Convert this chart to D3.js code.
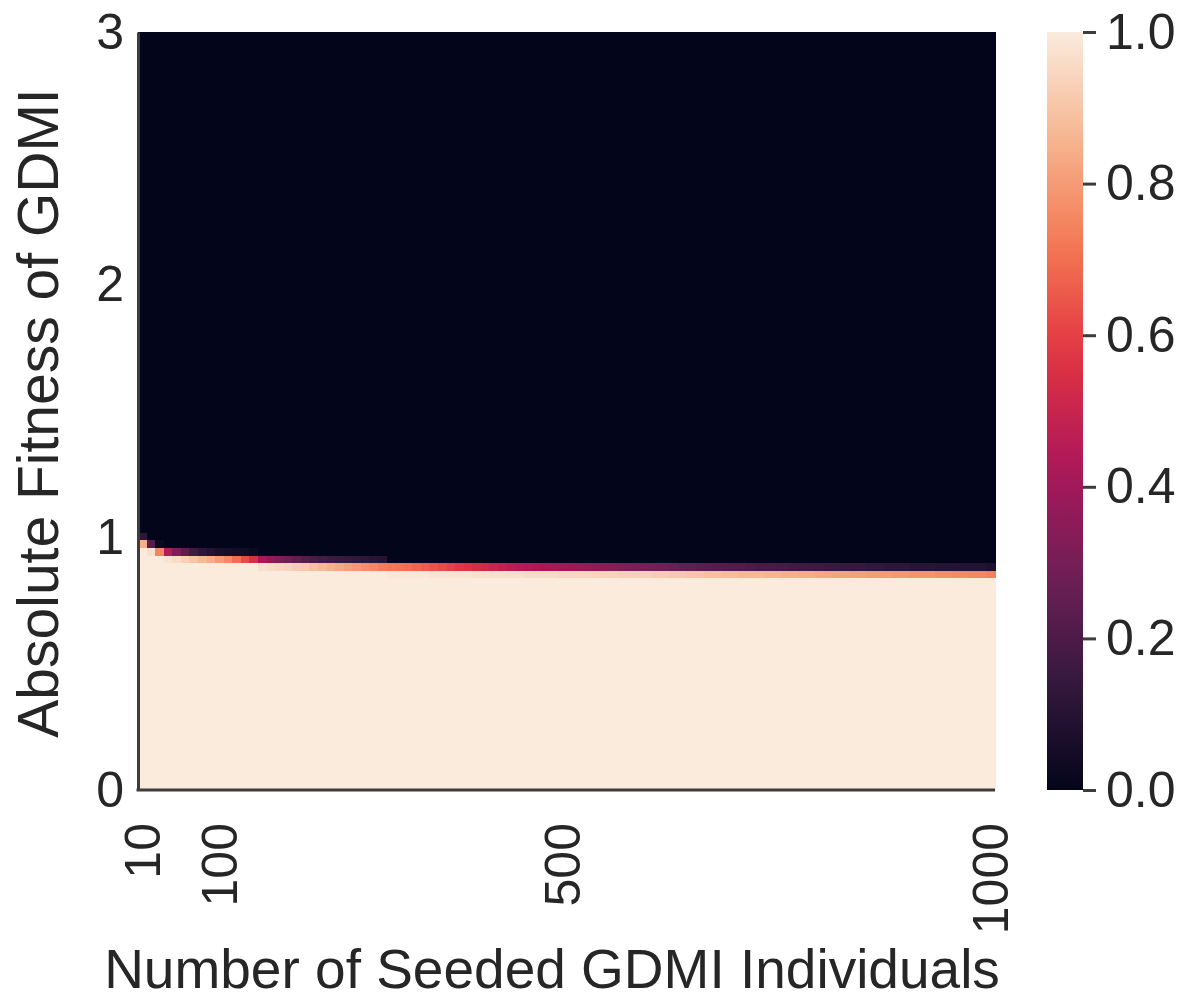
<!DOCTYPE html>
<html>
<head>
<meta charset="utf-8">
<script src="https://cdn.jsdelivr.net/npm/d3@7"></script>
<style>
  body { margin: 0; background: #fff; }
  text { font-family: "Liberation Sans", Arial, sans-serif; fill: #262626; }
</style>
</head>
<body>
<div id="chart"></div>
<script>
// number of seeded individuals (columns) and fitness rows
var seeded = d3.range(10, 1001, 10);
var nRows = 100;          // rows span fitness 0..3
var xTicks = [10, 100, 500, 1000];
var yTicks = [0, 1, 2, 3];
var cbTicks = [0, 0.2, 0.4, 0.6, 0.8, 1.0];

// row (from bottom) of the lower transition cell, for each column
var edgeRow = [
  32, 31, 31, 30, 30, 30, 30, 30, 30, 30,
  30, 30, 30, 30, 29, 29, 29, 29, 29, 29,
  29, 29, 29, 29, 29, 29, 29, 29, 29, 28,
  28, 28, 28, 28, 28, 28, 28, 28, 28, 28,
  28, 28, 28, 28, 28, 28, 28, 28, 28, 28,
  28, 28, 28, 28, 28, 28, 28, 28, 28, 28,
  28, 28, 28, 28, 28, 28, 28, 28, 28, 28,
  28, 28, 28, 28, 28, 28, 28, 28, 28, 28,
  28, 28, 28, 28, 28, 28, 28, 28, 28, 28,
  28, 28, 28, 28, 28, 28, 28, 28, 28, 28
];
// value of the lower transition cell
var lowerVal = [
  0.85, 0.97, 0.75, 0.98, 0.96, 0.93, 0.90, 0.87, 0.84, 0.80,
  0.76, 0.70, 0.62, 0.55, 0.97, 0.96, 0.95, 0.94, 0.92, 0.91,
  0.89, 0.87, 0.85, 0.83, 0.81, 0.79, 0.77, 0.75, 0.73, 0.99,
  0.99, 0.99, 0.99, 0.99, 0.98, 0.98, 0.98, 0.98, 0.98, 0.97,
  0.97, 0.97, 0.97, 0.97, 0.97, 0.96, 0.96, 0.96, 0.96, 0.95,
  0.95, 0.95, 0.95, 0.94, 0.94, 0.94, 0.93, 0.93, 0.93, 0.93,
  0.92, 0.92, 0.91, 0.91, 0.90, 0.90, 0.89, 0.89, 0.88, 0.88,
  0.87, 0.87, 0.87, 0.86, 0.86, 0.85, 0.85, 0.84, 0.84, 0.83,
  0.83, 0.82, 0.82, 0.81, 0.81, 0.80, 0.80, 0.80, 0.79, 0.79,
  0.78, 0.78, 0.78, 0.77, 0.77, 0.76, 0.76, 0.75, 0.75, 0.74
];
// value of the cell just above it
var upperVal = [
  0.12, 0.22, 0.03, 0.45, 0.32, 0.24, 0.17, 0.12, 0.09, 0.07,
  0.06, 0.05, 0.04, 0.03, 0.42, 0.36, 0.32, 0.28, 0.25, 0.22,
  0.20, 0.18, 0.16, 0.15, 0.14, 0.13, 0.12, 0.11, 0.10, 0.72,
  0.71, 0.70, 0.68, 0.66, 0.64, 0.62, 0.60, 0.58, 0.56, 0.54,
  0.52, 0.50, 0.48, 0.46, 0.45, 0.44, 0.43, 0.42, 0.41, 0.40,
  0.39, 0.38, 0.37, 0.36, 0.35, 0.34, 0.33, 0.32, 0.31, 0.30,
  0.29, 0.28, 0.27, 0.26, 0.25, 0.24, 0.23, 0.22, 0.22, 0.21,
  0.21, 0.20, 0.19, 0.19, 0.18, 0.18, 0.17, 0.17, 0.16, 0.16,
  0.15, 0.15, 0.14, 0.14, 0.14, 0.13, 0.13, 0.12, 0.12, 0.12,
  0.11, 0.11, 0.11, 0.10, 0.10, 0.10, 0.09, 0.09, 0.09, 0.08
];

// rocket colormap stops
var rocketStops = [0, 1/7, 2/7, 3/7, 4/7, 5/7, 6/7, 1];
var rocketColors = ["#03051a", "#35193e", "#701f57", "#ad1759", "#e13342", "#f37651", "#f6b48f", "#faebdd"];
var color = d3.scaleLinear().domain(rocketStops).range(rocketColors).interpolate(d3.interpolateRgb).clamp(true);

var width = 1197, height = 1001;
// plot box
var pLeft = 138, pRight = 995, pTop = 32, pBottom = 790;

var svg = d3.select("#chart").append("svg")
  .attr("width", width).attr("height", height);

// build cells
var cells = [];
seeded.forEach(function(n, c) {
  for (var r = 0; r < nRows; r++) {
    var v;
    if (r < edgeRow[c]) v = 1;
    else if (r === edgeRow[c]) v = lowerVal[c];
    else if (r === edgeRow[c] + 1) v = upperVal[c];
    else v = 0;
    cells.push({ n: n, row: r, value: v });
  }
});

var x = d3.scaleBand().domain(seeded).range([pLeft, pRight]);
var yRow = d3.scaleBand().domain(d3.range(nRows)).range([pBottom, pTop]);
var y = d3.scaleLinear().domain([0, 3]).range([pBottom, pTop]);

svg.append("g").selectAll("rect").data(cells).enter().append("rect")
  .attr("x", function(d) { return x(d.n); })
  .attr("y", function(d) { return yRow(d.row); })
  .attr("width", x.bandwidth() + 0.5)
  .attr("height", yRow.bandwidth() + 0.5)
  .attr("fill", function(d) { return color(d.value); })
  .attr("shape-rendering", "crispEdges");

// axes
var xAxis = d3.axisBottom(x).tickValues(xTicks).tickSizeInner(0).tickSizeOuter(0);
var gx = svg.append("g").attr("transform", "translate(0," + pBottom + ")").call(xAxis);
gx.select(".domain").attr("stroke", "#3d3d3d").attr("stroke-width", 3)
  .attr("d", "M" + (pLeft - 1.5) + ",0H" + pRight);
gx.selectAll(".tick text")
  .attr("font-size", 50).attr("fill", "#262626")
  .attr("transform", "rotate(-90)")
  .attr("text-anchor", "end")
  .attr("x", -33).attr("y", 0).attr("dy", "0.35em");

var yAxis = d3.axisLeft(y).tickValues(yTicks).tickFormat(d3.format("d"))
  .tickSizeInner(0).tickSizeOuter(0).tickPadding(14);
var gy = svg.append("g").attr("transform", "translate(" + pLeft + ",0)").call(yAxis);
gy.select(".domain").attr("stroke", "#3d3d3d").attr("stroke-width", 3);
gy.selectAll(".tick text").attr("font-size", 50).attr("fill", "#262626");

// axis titles
svg.append("text")
  .attr("x", 552).attr("y", 988)
  .attr("text-anchor", "middle").attr("font-size", 55)
  .text("Number of Seeded GDMI Individuals");
svg.append("text")
  .attr("transform", "translate(58,413) rotate(-90)")
  .attr("text-anchor", "middle").attr("font-size", 57)
  .text("Absolute Fitness of GDMI");

// colorbar
var cbLeft = 1047, cbWidth = 36;
var defs = svg.append("defs");
var grad = defs.append("linearGradient").attr("id", "rocket")
  .attr("x1", "0%").attr("y1", "100%").attr("x2", "0%").attr("y2", "0%");
d3.range(0, 1.0001, 0.05).forEach(function(t) {
  grad.append("stop").attr("offset", (t * 100) + "%").attr("stop-color", color(t));
});
svg.append("rect")
  .attr("x", cbLeft).attr("y", pTop)
  .attr("width", cbWidth).attr("height", pBottom - pTop)
  .attr("fill", "url(#rocket)");

var cbScale = d3.scaleLinear().domain([0, 1]).range([pBottom, pTop]);
var cbAxis = d3.axisRight(cbScale).tickValues(cbTicks).tickFormat(d3.format(".1f"))
  .tickSizeInner(13).tickSizeOuter(0).tickPadding(10);
var gc = svg.append("g").attr("transform", "translate(" + (cbLeft + cbWidth) + ",0)").call(cbAxis);
gc.select(".domain").remove();
gc.selectAll(".tick line").attr("stroke", "#3d3d3d").attr("stroke-width", 3);
gc.selectAll(".tick text").attr("font-size", 50).attr("fill", "#262626");
</script>
</body>
</html>
